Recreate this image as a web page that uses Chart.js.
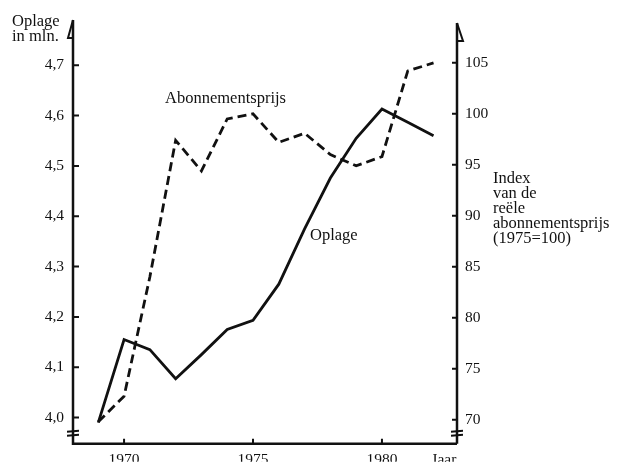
<!DOCTYPE html>
<html>
<head>
<meta charset="utf-8">
<script src="https://cdn.jsdelivr.net/npm/chart.js@4/dist/chart.umd.min.js"></script>
<style>
  body { margin: 0; background: #fff; }
  #wrap { width: 617px; height: 462px; }
</style>
</head>
<body>
<div id="wrap"><canvas id="chart" width="617" height="462"></canvas></div>
<script>
// Data
const years = [1969, 1970, 1971, 1972, 1973, 1974, 1975, 1976, 1977, 1978, 1979, 1980, 1981, 1982];
const oplage = [3.99, 4.155, 4.135, 4.077, 4.125, 4.175, 4.193, 4.265, 4.375, 4.476, 4.555, 4.613, 4.587, 4.56];
const abonnementsprijs = [69.8, 72.3, 84, 97.4, 94.4, 99.5, 100, 97.2, 98.1, 96.0, 94.9, 95.8, 104.2, 105];

const leftTicks = [4.0, 4.1, 4.2, 4.3, 4.4, 4.5, 4.6, 4.7];
const rightTicks = [70, 75, 80, 85, 90, 95, 100, 105];
const xTicks = [1970, 1975, 1980];
const xEndLabel = 'Jaar';
const xEndPos = 1982.4;

const ink = '#111';
const serif = "'Liberation Serif', 'DejaVu Serif', serif";

// axes, arrows, tick marks, axis breaks and free labels
const decor = {
    id: 'decor',
    afterDraw(chart) {
        const ctx = chart.ctx;
        const a = chart.chartArea;
        const yL = chart.scales.y;
        const yR = chart.scales.y2;
        const x = chart.scales.x;
        ctx.save();
        ctx.strokeStyle = ink;
        ctx.fillStyle = ink;
        ctx.lineWidth = 2.5;
        ctx.lineCap = 'butt';

        // axis lines
        ctx.beginPath();
        ctx.moveTo(a.left, a.top);
        ctx.lineTo(a.left, a.bottom);
        ctx.lineTo(a.right, a.bottom);
        ctx.moveTo(a.right, a.top + 3);
        ctx.lineTo(a.right, a.bottom);
        ctx.stroke();

        // half arrow heads
        ctx.lineWidth = 2;
        ctx.beginPath();
        ctx.moveTo(a.left, a.top);
        ctx.lineTo(a.left - 5, a.top + 18);
        ctx.lineTo(a.left, a.top + 18);
        ctx.moveTo(a.right, a.top + 3);
        ctx.lineTo(a.right + 6, a.top + 21);
        ctx.lineTo(a.right, a.top + 21);
        ctx.stroke();

        // tick marks pointing inwards
        ctx.beginPath();
        leftTicks.forEach(v => {
            const py = yL.getPixelForValue(v);
            ctx.moveTo(a.left, py);
            ctx.lineTo(a.left + 6, py);
        });
        rightTicks.forEach(v => {
            const py = yR.getPixelForValue(v);
            ctx.moveTo(a.right, py);
            ctx.lineTo(a.right - 5, py);
        });
        xTicks.forEach(v => {
            const px = x.getPixelForValue(v);
            ctx.moveTo(px, a.bottom);
            ctx.lineTo(px, a.bottom - 5);
        });
        ctx.stroke();

        // axis break marks
        ctx.beginPath();
        [a.left, a.right].forEach(ax => {
            ctx.moveTo(ax - 6, a.bottom - 12);
            ctx.lineTo(ax + 6, a.bottom - 13);
            ctx.moveTo(ax - 6, a.bottom - 8);
            ctx.lineTo(ax + 6, a.bottom - 9);
        });
        ctx.stroke();

        // texts
        ctx.font = '16.5px ' + serif;
        ctx.textBaseline = 'alphabetic';
        ctx.textAlign = 'left';
        ctx.fillText('Oplage', 12, 26);
        ctx.fillText('in mln.', 12, 41);
        ctx.fillText('Abonnementsprijs', 165, 103);
        ctx.fillText('Oplage', 310, 240);
        const idx = ['Index', 'van de', 'reële', 'abonnementsprijs', '(1975=100)'];
        idx.forEach((t, i) => ctx.fillText(t, 493, 183 + i * 15));
        ctx.restore();
    }
};

new Chart(document.getElementById('chart'), {
    type: 'line',
    data: {
        datasets: [{
            label: 'Oplage',
            data: years.map((yr, i) => ({ x: yr, y: oplage[i] })),
            borderColor: ink,
            borderWidth: 2.8,
            pointRadius: 0,
            tension: 0,
            yAxisID: 'y'
        }, {
            label: 'Abonnementsprijs',
            data: years.map((yr, i) => ({ x: yr, y: abonnementsprijs[i] })),
            borderColor: ink,
            borderWidth: 2.8,
            borderDash: [9, 5],
            pointRadius: 0,
            tension: 0,
            yAxisID: 'y2'
        }]
    },
    options: {
        responsive: false,
        animation: false,
        layout: { padding: { top: 20, left: 0, right: 0, bottom: 0 } },
        plugins: { legend: { display: false }, tooltip: { enabled: false } },
        scales: {
            x: {
                type: 'linear',
                min: 1968.02,
                max: 1982.91,
                grid: { display: false, drawTicks: false },
                border: { display: false },
                afterBuildTicks: s => { s.ticks = xTicks.concat([xEndPos]).map(v => ({ value: v })); },
                afterFit: s => { s.height = 18; },
                ticks: {
                    padding: 7,
                    color: ink,
                    font: { family: serif, size: 15.5 },
                    callback: v => (v === xEndPos ? xEndLabel : String(v))
                }
            },
            y: {
                position: 'left',
                min: 3.948,
                max: 4.79,
                grid: { display: false, drawTicks: false },
                border: { display: false },
                afterBuildTicks: s => { s.ticks = leftTicks.map(v => ({ value: v })); },
                afterFit: s => { s.width = 73; },
                ticks: {
                    padding: 9,
                    color: ink,
                    font: { family: serif, size: 15.5 },
                    callback: v => v.toFixed(1).replace('.', ',')
                }
            },
            y2: {
                position: 'right',
                min: 67.65,
                max: 109.2,
                grid: { display: false, drawTicks: false },
                border: { display: false },
                afterBuildTicks: s => { s.ticks = rightTicks.map(v => ({ value: v })); },
                afterFit: s => { s.width = 160; },
                ticks: {
                    padding: 8,
                    color: ink,
                    font: { family: serif, size: 15.5 },
                    callback: v => String(v)
                }
            }
        }
    },
    plugins: [decor]
});
</script>
</body>
</html>
